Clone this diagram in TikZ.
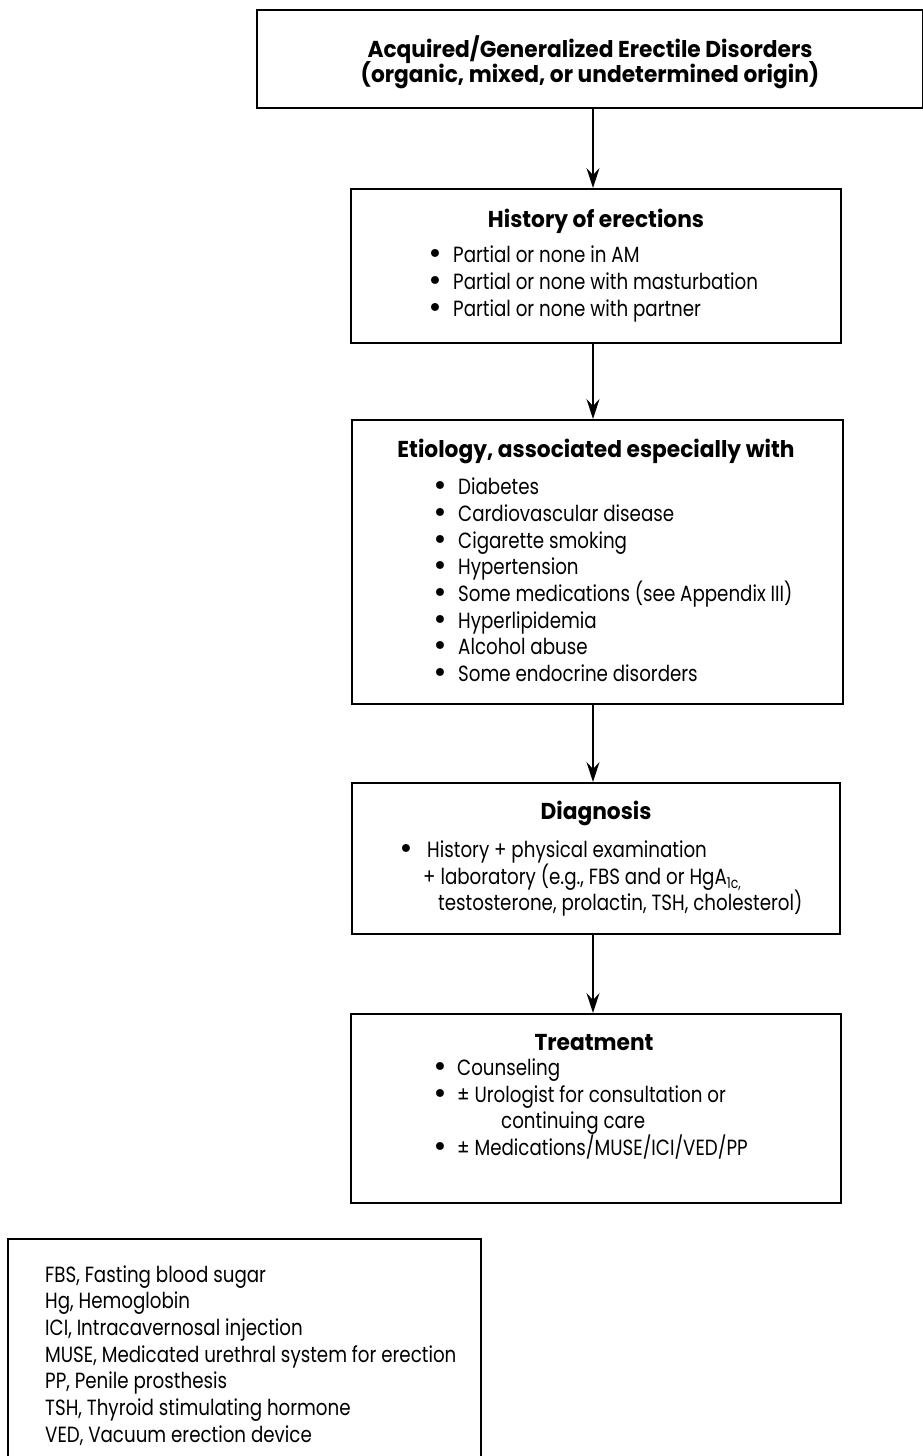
\documentclass[tikz,border=0pt]{standalone}
\usepackage{fontspec}
\setmainfont{Poppins}[FakeStretch=0.83]
\newfontfamily\headfont{Poppins}[FakeStretch=0.945]
\newfontfamily\bulfont{DejaVu Sans}
\newcommand{\bul}[1]{\makebox[#1][l]{\bulfont\fontsize{27}{26}\selectfont\raisebox{-1pt}{•}}}
\usetikzlibrary{arrows.meta}
\begin{document}
\begin{tikzpicture}[x=1pt,y=-1pt,
  box/.style={draw=black, line width=1.5pt, inner sep=0pt, anchor=north west},
  arr/.style={line width=1.3pt, -{Stealth[length=20pt,width=13pt,inset=7pt]}},
  hd/.style={anchor=base, inner sep=0pt, font=\headfont\fontsize{23}{27}\selectfont\bfseries},
  tx/.style={anchor=base west, inner sep=0pt, font=\fontsize{22}{26}\selectfont},
]
\useasboundingbox (0,0) rectangle (923,1456);
\clip (0,0) rectangle (923,1456);
% boxes
\node[box, minimum width=666pt, minimum height=98pt] (b1) at (256,9) {};
\node[box, minimum width=490pt, minimum height=154pt] (b2) at (350,188) {};
\node[box, minimum width=491pt, minimum height=284pt] (b3) at (351,419) {};
\node[box, minimum width=488pt, minimum height=151pt] (b4) at (351,782) {};
\node[box, minimum width=490pt, minimum height=189pt] (b5) at (350,1013) {};
\node[box, minimum width=473pt, minimum height=260pt] (lg) at (7,1238) {};
% arrows
\coordinate (ax) at (593,0);
\draw[arr] (b1.south -| ax) -- (b2.north -| ax);
\draw[arr] (b2.south -| ax) -- (b3.north -| ax);
\draw[arr] (b3.south -| ax) -- (b4.north -| ax);
\draw[arr] (b4.south -| ax) -- (b5.north -| ax);
% box 1
\node[hd] (t1a) at (590,57) {Acquired/Generalized Erectile Disorders};
\node[hd] (t1b) at (590,82) {(organic, mixed, or undetermined origin)};
% box 2
\node[hd] (t2h) at (596,227) {History of erections};
\node[tx] (t2a) at (427,262) {\bul{26pt}Partial or none in AM};
\node[tx] (t2b) at (427,289) {\bul{26pt}Partial or none with masturbation};
\node[tx] (t2c) at (427,316) {\bul{26pt}Partial or none with partner};
% box 3
\node[hd] (t3h) at (596,457) {Etiology, associated especially with};
\node[tx] (t3a) at (432,494) {\bul{26pt}Diabetes};
\node[tx] (t3b) at (432,521) {\bul{26pt}Cardiovascular disease};
\node[tx] (t3c) at (432,548) {\bul{26pt}Cigarette smoking};
\node[tx] (t3d) at (432,574) {\bul{26pt}Hypertension};
\node[tx] (t3e) at (432,601) {\bul{26pt}Some medications (see Appendix III)};
\node[tx] (t3f) at (432,628) {\bul{26pt}Hyperlipidemia};
\node[tx] (t3g) at (432,654) {\bul{26pt}Alcohol abuse};
\node[tx] (t3i) at (432,681) {\bul{26pt}Some endocrine disorders};
% box 4
\node[hd] (t4h) at (596,819) {Diagnosis};
\node[tx] (t4a) at (398,857) {\bul{29pt}History + physical examination};
\node[tx] (t4b) at (423,884) {+ laboratory (e.g., FBS and or HgA\raisebox{-4pt}{\fontsize{15}{15}\selectfont 1c,}};
\node[tx] (t4c) at (438,910) {testosterone, prolactin, TSH, cholesterol)};
% box 5
\node[hd] (t5h) at (594,1050) {Treatment};
\node[tx] (t5a) at (432,1075) {\bul{25pt}Counseling};
\node[tx] (t5b) at (432,1102) {\bul{25pt}± Urologist for consultation or};
\node[tx] (t5c) at (501,1128) {continuing care};
\node[tx] (t5d) at (432,1155) {\bul{25pt}± Medications/MUSE/ICI/VED/PP};
% legend
\node[tx] (l1) at (45,1282) {FBS, Fasting blood sugar};
\node[tx] (l2) at (45,1308) {Hg, Hemoglobin};
\node[tx] (l3) at (45,1335) {ICI, Intracavernosal injection};
\node[tx] (l4) at (45,1362) {MUSE, Medicated urethral system for erection};
\node[tx] (l5) at (45,1388) {PP, Penile prosthesis};
\node[tx] (l6) at (45,1415) {TSH, Thyroid stimulating hormone};
\node[tx] (l7) at (45,1442) {VED, Vacuum erection device};
\end{tikzpicture}
\end{document}
